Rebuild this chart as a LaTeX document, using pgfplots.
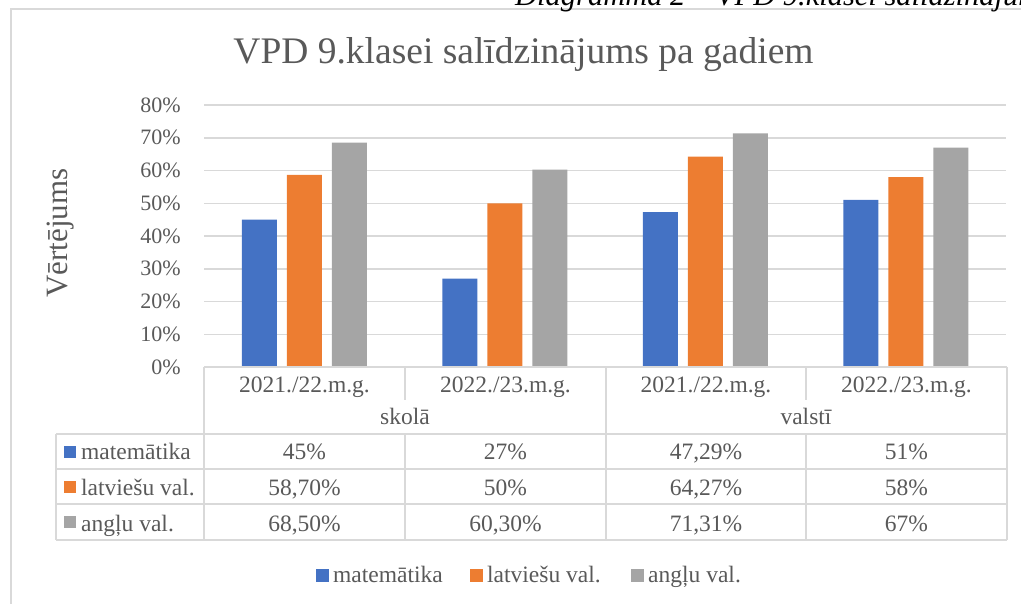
\documentclass[border=0pt]{standalone}
\usepackage{fontspec}
\setmainfont{Liberation Serif}
\usepackage{pgfplots}
\pgfplotsset{compat=1.18}
\definecolor{cblue}{HTML}{4472C4}
\definecolor{corange}{HTML}{ED7D31}
\definecolor{cgray}{HTML}{A5A5A5}
\definecolor{txt}{HTML}{595959}
\definecolor{lns}{HTML}{D9D9D9}
\newcommand{\fs}[1]{\fontsize{#1bp}{#1bp}\selectfont}
\begin{document}
\begin{tikzpicture}
\useasboundingbox (0,0) rectangle (1021bp,-604bp);
\begin{axis}[
 at={(204bp,-367bp)}, anchor=south west,
 scale only axis, width=802bp, height=262bp,
 xmin=0, xmax=4, ymin=0, ymax=80,
 ybar=10bp, bar width=35bp,
 axis line style={draw=none},
 xtick=\empty,
 ytick={0,10,...,80},
 ymajorgrids, grid style={draw=lns, line width=1.5bp},
 major tick length=0pt,
 yticklabel={\pgfmathprintnumber{\tick}\%},
 /pgf/number format/assume math mode=true,
 yticklabel style={font=\fs{22}, text=txt, inner sep=0pt, anchor=east, xshift=-23bp},
 clip=false,
]
\addplot[fill=cblue, draw=none] coordinates {(0.5,45) (1.5,27) (2.5,47.29) (3.5,51)};
\addplot[fill=corange, draw=none] coordinates {(0.5,58.7) (1.5,50) (2.5,64.27) (3.5,58)};
\addplot[fill=cgray, draw=none] coordinates {(0.5,68.5) (1.5,60.3) (2.5,71.31) (3.5,67)};
\end{axis}
\begin{scope}[x=1bp,y=1bp]
% frame
\draw[lns, line width=2bp] (1021,-9) -- (11,-9) -- (11,-604);
% caption (cut off at the top, as in the reference)
\node[anchor=base west, inner sep=0pt, font=\fs{30.5}\itshape] at (515,-5) {Diagramma 2 – VPD 9.klasei salīdzinājums pa gadiem};
% title
\node[anchor=base, inner sep=0pt, text=txt, font=\fs{37.5}] at (523.5,-63) {VPD 9.klasei salīdzinājums pa gadiem};
% y label
\node[anchor=base, inner sep=0pt, text=txt, rotate=90, font=\fs{31}] at (67,-233) {Vērtējums};
% table lines
\begin{scope}[lns, line width=1.5bp]
\draw (204,-367) -- (1007,-367);
\draw (204,-367) -- (204,-540);
\draw (405,-367) -- (405,-400);
\draw (806,-367) -- (806,-400);
\draw (606,-367) -- (606,-540);
\draw (1007,-367) -- (1007,-540);
\draw (405,-434) -- (405,-540);
\draw (806,-434) -- (806,-540);
\draw (56,-434) -- (56,-540);
\foreach \yy in {434,469,504,540} \draw (56,-\yy) -- (1007,-\yy);
\end{scope}
% table text
\begin{scope}[every node/.style={anchor=base, inner sep=0pt, text=txt, font=\fs{23.5}}]
\node at (304.5,-392) {2021./22.m.g.};
\node at (505.5,-392) {2022./23.m.g.};
\node at (706,-392) {2021./22.m.g.};
\node at (906.5,-392) {2022./23.m.g.};
\node at (405,-424) {skolā};
\node at (806,-424) {valstī};
\node at (304.5,-459) {45\%};
\node at (505.5,-459) {27\%};
\node at (706,-459) {47,29\%};
\node at (906.5,-459) {51\%};
\node at (304.5,-495) {58,70\%};
\node at (505.5,-495) {50\%};
\node at (706,-495) {64,27\%};
\node at (906.5,-495) {58\%};
\node at (304.5,-531) {68,50\%};
\node at (505.5,-531) {60,30\%};
\node at (706,-531) {71,31\%};
\node at (906.5,-531) {67\%};
\node[anchor=base west] at (81,-459) {matemātika};
\node[anchor=base west] at (81,-495) {latviešu val.};
\node[anchor=base west] at (81,-531) {angļu val.};
\node[anchor=base west] at (333,-582) {matemātika};
\node[anchor=base west] at (487,-582) {latviešu val.};
\node[anchor=base west] at (648,-582) {angļu val.};
\end{scope}
\fill[cblue] (64,-446) rectangle (76,-458);
\fill[corange] (64,-481) rectangle (76,-493);
\fill[cgray] (64,-516) rectangle (76,-528);
\fill[cblue] (316,-569) rectangle (329,-582);
\fill[corange] (470,-569) rectangle (483,-582);
\fill[cgray] (631,-569) rectangle (644,-582);
\end{scope}
\end{tikzpicture}
\end{document}
